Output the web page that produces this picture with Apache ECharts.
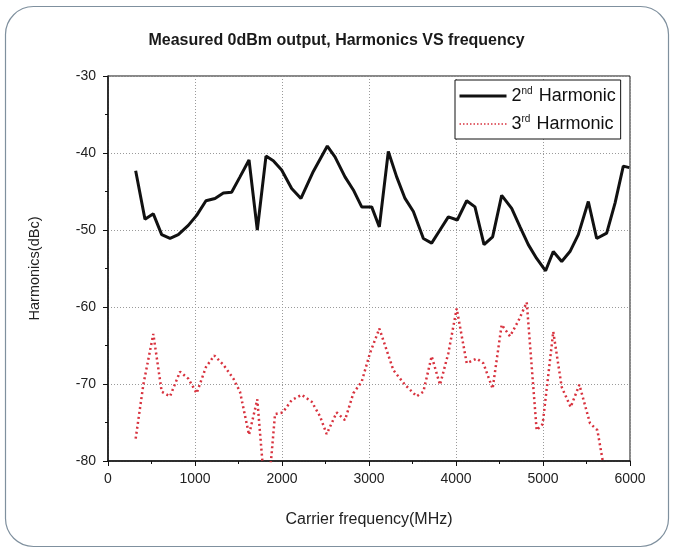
<!DOCTYPE html>
<html>
<head>
<meta charset="utf-8">
<script src="https://cdn.jsdelivr.net/npm/echarts@6/dist/echarts.min.js"></script>
<style>
  html, body { margin: 0; padding: 0; background: #fff; }
  #chart { width: 673px; height: 551px; }
</style>
</head>
<body>
<div id="chart"></div>
<script>
// 数据（从图上读出来的，单位 MHz / dBc）
var freq2 = [318, 425, 521, 617, 713, 808, 923, 1019, 1126, 1230, 1326, 1421, 1517, 1621, 1716, 1816, 1900, 1996,
  2111, 2218, 2360, 2521, 2609, 2724, 2820, 2916, 3031, 3119, 3222, 3318, 3414, 3510, 3625, 3720, 3816, 3912,
  4015, 4123, 4218, 4322, 4421, 4525, 4640, 4736, 4831, 4927, 5030, 5118, 5215, 5310, 5406, 5521, 5617, 5732,
  5828, 5923, 5992];
var harm2 = [-42.3, -48.6, -47.9, -50.6, -51.1, -50.6, -49.4, -48.1, -46.2, -45.9, -45.2, -45.1, -43.1, -40.9, -50, -40.4, -41, -42.2,
  -44.6, -45.9, -42.4, -39.1, -40.5, -43.1, -44.8, -47, -47, -49.6, -39.8, -43.1, -45.9, -47.6, -51.1, -51.7, -50, -48.3,
  -48.7, -46.2, -47, -51.9, -50.9, -45.5, -47.2, -49.6, -51.9, -53.7, -55.3, -52.8, -54.1, -52.8, -50.6, -46.3, -51.1, -50.4,
  -46.5, -41.7, -41.9];

var freq3 = [318, 406, 521, 617, 713, 828, 923, 1019, 1126, 1222, 1326, 1441, 1517, 1621, 1716, 1785, 1862, 1920,
  2008, 2111, 2226, 2341, 2437, 2513, 2628, 2724, 2820, 2916, 3011, 3119, 3280, 3414, 3548, 3625, 3720, 3816,
  3912, 4008, 4123, 4238, 4314, 4421, 4525, 4621, 4717, 4813, 4927, 4996, 5118, 5215, 5318, 5418, 5540, 5625, 5710];
var harm3 = [-77.1, -70.1, -63.5, -71, -71.6, -68.4, -69.3, -71.2, -67.8, -66.3, -67.5, -69.3, -71, -76.6, -72, -81.5, -81.5, -73.9,
  -73.7, -72.1, -71.4, -72.3, -74.2, -76.5, -73.7, -74.7, -71.2, -69.7, -66, -62.8, -68.2, -70.1, -71.6, -71, -66.4, -70.1,
  -66, -60.2, -67.3, -66.7, -67.3, -70.6, -62.3, -63.8, -61.8, -59.4, -76, -75.2, -63.2, -70.4, -73, -70.1, -75.1, -76, -81.5];

var xTicks = [0, 1000, 2000, 3000, 4000, 5000, 6000];
var yTicks = [-80, -70, -60, -50, -40, -30];

function pairs(xs, ys) {
  var out = [];
  for (var i = 0; i < xs.length; i++) out.push([xs[i], ys[i]]);
  return out;
}

var chart = echarts.init(document.getElementById('chart'), null, { renderer: 'canvas' });

var option = {
  backgroundColor: '#fff',
  animation: false,
  textStyle: { fontFamily: 'Liberation Sans, Arial, sans-serif' },
  title: {
    text: 'Measured 0dBm output, Harmonics VS frequency',
    left: 'center',
    top: 28,
    textStyle: { fontSize: 16, fontWeight: 'bold', color: '#1a1a1a', fontFamily: 'Liberation Sans, Arial, sans-serif' }
  },
  graphic: [{
    type: 'rect',
    shape: { x: 5.5, y: 6.5, width: 663, height: 540, r: 28 },
    style: { fill: 'none', stroke: '#7f909e', lineWidth: 1.2 },
    silent: true
  }],
  legend: {
    orient: 'vertical',
    left: 455,
    top: 80,
    padding: [3, 5, 2, 3],
    itemGap: 2,
    itemWidth: 47,
    itemHeight: 14,
    backgroundColor: '#fff',
    borderColor: '#111',
    borderWidth: 1,
    itemStyle: { opacity: 0 },
    data: [
      { name: '2nd Harmonic', lineStyle: { width: 3, color: '#111' } },
      { name: '3rd Harmonic', lineStyle: { width: 1.5, color: '#d8323e', type: [1.5, 2] } }
    ],
    formatter: function (name) {
      return name === '2nd Harmonic' ? '{n|2}{s|nd} Harmonic' : '{n|3}{s|rd} Harmonic';
    },
    textStyle: {
      fontSize: 18,
      color: '#111',
      lineHeight: 26,
      rich: {
        n: { fontSize: 18, color: '#111', lineHeight: 26 },
        s: { fontSize: 10, color: '#111', padding: [0, 1, 10, 0] }
      }
    }
  },
  grid: {
    left: 108, right: 43, top: 76, bottom: 90,
    show: true, borderColor: '#111', borderWidth: 1, backgroundColor: 'transparent'
  },
  xAxis: {
    type: 'value',
    min: 0, max: 6000, interval: 1000,
    name: 'Carrier frequency(MHz)',
    nameLocation: 'middle',
    nameGap: 51,
    nameTextStyle: { fontSize: 16, color: '#222' },
    axisLine: { show: true, onZero: false, lineStyle: { color: '#111', width: 1.5 } },
    axisTick: { show: true, length: 5, lineStyle: { color: '#111' } },
    minorTick: { show: true, splitNumber: 2, length: 3, lineStyle: { color: '#111' } },
    axisLabel: { fontSize: 14, color: '#222', margin: 11,
      formatter: function (v) { return xTicks.indexOf(v) >= 0 ? String(v) : ''; } },
    splitLine: { show: true, lineStyle: { color: '#9a9a9a', type: [1, 2], width: 1 } }
  },
  yAxis: {
    type: 'value',
    min: -80, max: -30, interval: 10,
    name: 'Harmonics(dBc)',
    nameLocation: 'middle',
    nameGap: 66,
    nameTextStyle: { fontSize: 14.5, color: '#222' },
    axisLine: { show: true, onZero: false, lineStyle: { color: '#111', width: 1.5 } },
    axisTick: { show: true, length: 5, lineStyle: { color: '#111' } },
    minorTick: { show: true, splitNumber: 2, length: 3, lineStyle: { color: '#111' } },
    axisLabel: { fontSize: 14, color: '#222', margin: 12,
      formatter: function (v) { return yTicks.indexOf(v) >= 0 ? String(v) : ''; } },
    splitLine: { show: true, lineStyle: { color: '#9a9a9a', type: [1, 2], width: 1 } }
  },
  series: [
    {
      name: '2nd Harmonic',
      type: 'line',
      symbol: 'none',
      clip: true,
      data: pairs(freq2, harm2),
      lineStyle: { color: '#111', width: 3 },
      itemStyle: { color: '#111' }
    },
    {
      name: '3rd Harmonic',
      type: 'line',
      symbol: 'none',
      clip: true,
      data: pairs(freq3, harm3),
      lineStyle: { color: '#d8323e', width: 2.5, type: [2, 3] },
      itemStyle: { color: '#d8323e' }
    }
  ]
};

chart.setOption(option);
</script>
</body>
</html>
